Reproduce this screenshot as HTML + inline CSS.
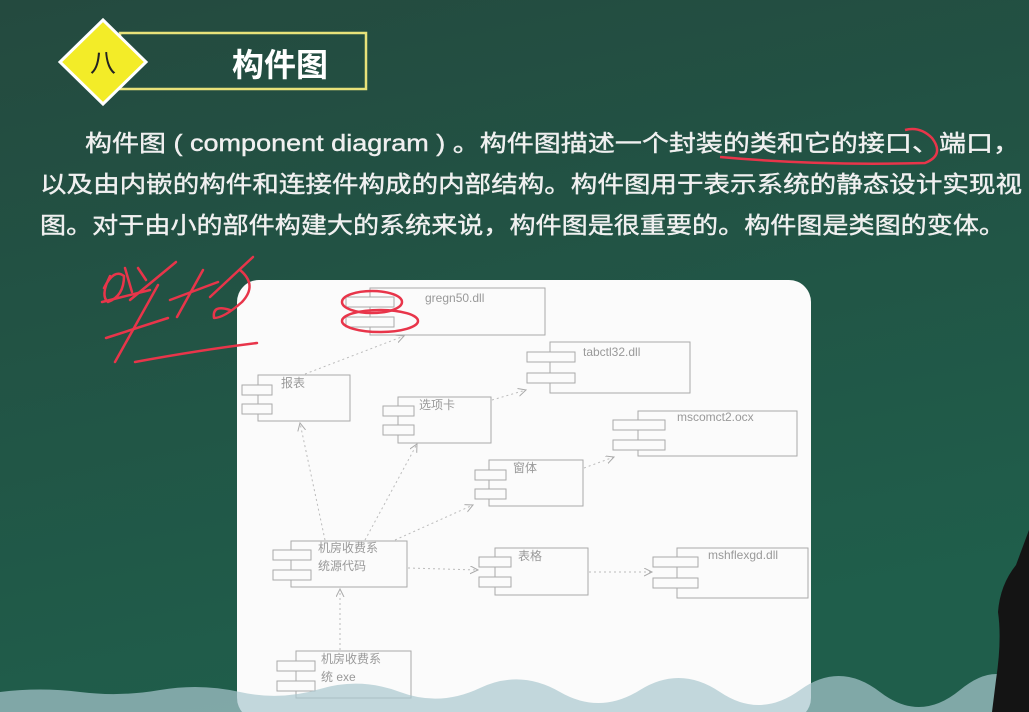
<!DOCTYPE html>
<html><head><meta charset="utf-8"><style>
html,body{margin:0;padding:0;width:1029px;height:712px;overflow:hidden;background:#225244}
svg{display:block}
</style></head><body>
<svg width="1029" height="712" viewBox="0 0 1029 712" xmlns="http://www.w3.org/2000/svg">
<defs>
<linearGradient id="bg" x1="0" y1="0" x2="0.3" y2="1">
<stop offset="0" stop-color="#244a3f"/><stop offset="1" stop-color="#1f5e4b"/>
</linearGradient>
<marker id="ar" markerWidth="10" markerHeight="10" refX="8" refY="4" orient="auto" markerUnits="userSpaceOnUse">
<path d="M0,0 L8,4 L0,8" fill="none" stroke="#aaa" stroke-width="1"/>
</marker>
</defs>
<rect width="1029" height="712" fill="url(#bg)"/>
<!-- title -->
<rect x="120" y="33" width="246" height="56" fill="none" stroke="#e8e27a" stroke-width="2.5"/>
<polygon points="103,20 146,62 103,104 60,62" fill="#f3ec28" stroke="#fff" stroke-width="3"/>
<text x="103" y="72" font-family="Liberation Sans, Noto Sans CJK SC, sans-serif" font-size="26" text-anchor="middle" fill="#222">八</text>
<text x="232" y="76" font-family="Liberation Sans, Noto Sans CJK SC, sans-serif" font-size="32" font-weight="bold" fill="#fff">构件图</text>
<!-- paragraph -->
<g font-family="Liberation Sans, Noto Sans CJK SC, sans-serif" font-size="23" fill="#f0f0f0" stroke="#f0f0f0" stroke-width="0.4">
<text x="85" y="151" textLength="935" lengthAdjust="spacingAndGlyphs">构件图 ( component diagram ) 。构件图描述一个封装的类和它的接口、端口，</text>
<text x="40" y="192" textLength="982" lengthAdjust="spacingAndGlyphs">以及由内嵌的构件和连接件构成的内部结构。构件图用于表示系统的静态设计实现视</text>
<text x="40" y="233" textLength="965" lengthAdjust="spacingAndGlyphs">图。对于由小的部件构建大的系统来说，构件图是很重要的。构件图是类图的变体。</text>
</g>
<path d="M720,157 Q820,166 925,163 Q945,155 932,138 Q920,126 905,130" fill="none" stroke="#e8354a" stroke-width="2.5"/>
<!-- panel -->
<rect x="237" y="280" width="574" height="440" rx="22" fill="#fbfbfb"/>
<g fill="none" stroke="#aaa" stroke-width="1">
<rect x="370" y="288" width="175" height="47"/><rect x="346" y="297" width="48" height="10" fill="#fbfbfb"/><rect x="346" y="317" width="48" height="10" fill="#fbfbfb"/>
<rect x="550" y="342" width="140" height="51"/><rect x="527" y="352" width="48" height="10" fill="#fbfbfb"/><rect x="527" y="373" width="48" height="10" fill="#fbfbfb"/>
<rect x="258" y="375" width="92" height="46"/><rect x="242" y="385" width="30" height="10" fill="#fbfbfb"/><rect x="242" y="404" width="30" height="10" fill="#fbfbfb"/>
<rect x="398" y="397" width="93" height="46"/><rect x="383" y="406" width="31" height="10" fill="#fbfbfb"/><rect x="383" y="425" width="31" height="10" fill="#fbfbfb"/>
<rect x="638" y="411" width="159" height="45"/><rect x="613" y="420" width="52" height="10" fill="#fbfbfb"/><rect x="613" y="440" width="52" height="10" fill="#fbfbfb"/>
<rect x="489" y="460" width="94" height="46"/><rect x="475" y="470" width="31" height="10" fill="#fbfbfb"/><rect x="475" y="489" width="31" height="10" fill="#fbfbfb"/>
<rect x="291" y="541" width="116" height="46"/><rect x="273" y="550" width="38" height="10" fill="#fbfbfb"/><rect x="273" y="570" width="38" height="10" fill="#fbfbfb"/>
<rect x="495" y="548" width="93" height="47"/><rect x="479" y="557" width="32" height="10" fill="#fbfbfb"/><rect x="479" y="577" width="32" height="10" fill="#fbfbfb"/>
<rect x="677" y="548" width="131" height="50"/><rect x="653" y="557" width="45" height="10" fill="#fbfbfb"/><rect x="653" y="578" width="45" height="10" fill="#fbfbfb"/>
<rect x="296" y="651" width="115" height="47"/><rect x="277" y="661" width="38" height="10" fill="#fbfbfb"/><rect x="277" y="681" width="38" height="10" fill="#fbfbfb"/>
</g>
<g fill="none" stroke="#bbb" stroke-width="1" stroke-dasharray="2,3" marker-end="url(#ar)">
<path d="M305,374 L404,336"/>
<path d="M492,400 L526,390"/>
<path d="M584,468 L614,457"/>
<path d="M325,540 L300,423"/>
<path d="M365,540 L417,444"/>
<path d="M395,540 L473,505"/>
<path d="M408,568 L478,570"/>
<path d="M589,572 L652,572"/>
<path d="M340,650 L340,589"/>
</g>
<g font-family="Liberation Sans, Noto Sans CJK SC, sans-serif" font-size="12" fill="#999">
<text x="425" y="302">gregn50.dll</text>
<text x="583" y="356">tabctl32.dll</text>
<text x="281" y="387">报表</text>
<text x="419" y="409">选项卡</text>
<text x="677" y="421">mscomct2.ocx</text>
<text x="513" y="472">窗体</text>
<text x="318" y="552">机房收费系</text>
<text x="318" y="570">统源代码</text>
<text x="518" y="560">表格</text>
<text x="708" y="559">mshflexgd.dll</text>
<text x="321" y="663">机房收费系</text>
<text x="321" y="681">统 exe</text>
</g>
<!-- red marks -->
<g fill="none" stroke="#e8354a" stroke-width="2.5" stroke-linecap="round" stroke-linejoin="round">
<ellipse cx="372" cy="302" rx="30" ry="11"/>
<ellipse cx="380" cy="321" rx="38" ry="11"/>
<path d="M110,276 Q100,296 108,302 Q124,296 124,276 Q114,268 104,288"/>
<path d="M102,302 L150,290"/>
<path d="M125,268 L132,292 M138,268 L146,280"/>
<path d="M176,262 L130,300"/>
<path d="M158,285 L115,362"/>
<path d="M106,338 L168,318"/>
<path d="M203,270 L177,317"/>
<path d="M170,300 L218,282"/>
<path d="M253,257 L210,297"/>
<path d="M240,270 Q258,285 242,302 Q224,318 214,318 Q212,304 230,310"/>
<path d="M135,362 Q200,350 257,343"/>
</g>
<!-- bottom strip and person -->
<path d="M0,692 Q40,687 80,692 T160,690 T240,692 T320,689 T400,692 T480,688 T560,692 T640,690 T720,692 T800,690 T880,692 T960,690 T1029,692 L1029,712 L0,712 Z" fill="#a9c8cf" opacity="0.7"/>
<path d="M1029,530 L1016,565 Q1000,585 998,612 Q1002,640 996,680 L992,712 L1029,712 Z" fill="#141414"/>
</svg>
</body></html>
